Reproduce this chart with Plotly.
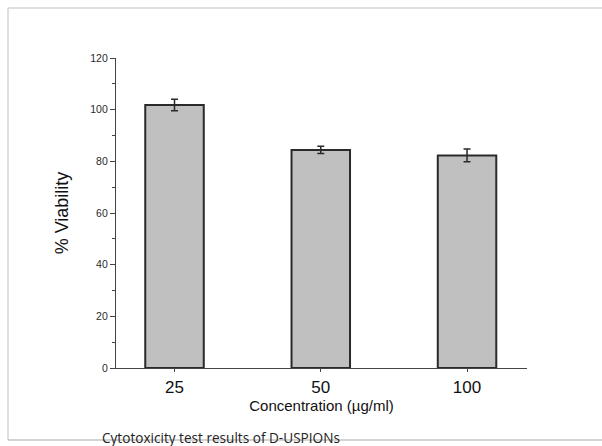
import plotly.graph_objects as go

# Cell viability at each D-USPION concentration
concentrations = ["25", "50", "100"]
viability = [101.8, 84.4, 82.3]
viability_sd = [2.2, 1.4, 2.5]

y_ticks = [0, 20, 40, 60, 80, 100, 120]

fig = go.Figure()
fig.add_trace(go.Bar(
    x=concentrations,
    y=viability,
    width=0.4,
    marker=dict(color="#c0c0c0", line=dict(color="#2a2a2a", width=2)),
    error_y=dict(type="data", array=viability_sd, visible=True,
                 color="#2a2a2a", thickness=1.5, width=3.5),
))

fig.update_layout(
    width=602, height=446,
    margin=dict(l=116, r=75, t=58, b=78),
    paper_bgcolor="white", plot_bgcolor="white",
    showlegend=False,
    font=dict(family="Liberation Sans, Arial, sans-serif", color="#222"),
    xaxis=dict(
        type="category", range=[-0.4, 2.41],
        showline=True, linecolor="#444", linewidth=1.2,
        ticks="outside", ticklen=3, tickcolor="#444",
        tickfont=dict(size=17, color="#111"),
        title=dict(text="Concentration (µg/ml)", font=dict(size=15, color="#111"), standoff=3),
        showgrid=False, zeroline=False,
    ),
    yaxis=dict(
        range=[0, 120], tickvals=y_ticks,
        showline=True, linecolor="#444", linewidth=1.2,
        ticks="outside", ticklen=5, tickcolor="#444",
        minor=dict(dtick=10, ticks="outside", ticklen=3, tickcolor="#444"),
        tickfont=dict(size=10.5, color="#2a2a2a"),
        title=dict(text="% Viability", font=dict(size=18, color="#111"), standoff=16),
        showgrid=False, zeroline=False,
    ),
)

# Frame around the figure panel (top, left, bottom edges)
px_to_x = lambda px: (px - 116) / 411
py_to_y = lambda py: (368 - py) / 310
frame = dict(color="#d4d4d4", width=1.5)
fig.add_shape(type="line", xref="paper", yref="paper",
              x0=px_to_x(8), x1=px_to_x(602), y0=py_to_y(8), y1=py_to_y(8), line=frame)
fig.add_shape(type="line", xref="paper", yref="paper",
              x0=px_to_x(8), x1=px_to_x(8), y0=py_to_y(8), y1=py_to_y(440), line=frame)
fig.add_shape(type="line", xref="paper", yref="paper",
              x0=px_to_x(8), x1=px_to_x(602), y0=py_to_y(440), y1=py_to_y(440),
              line=dict(color="#a8a8a8", width=1.2))

# Figure caption, sitting on the bottom frame line
fig.add_annotation(
    text="Cytotoxicity test results of D-USPIONs",
    xref="paper", yref="paper", x=px_to_x(221), y=py_to_y(437.5),
    xanchor="center", yanchor="middle", showarrow=False,
    font=dict(family="Open Sans, sans-serif", size=13.6, color="#222"),
)

fig.write_html("out.html")
